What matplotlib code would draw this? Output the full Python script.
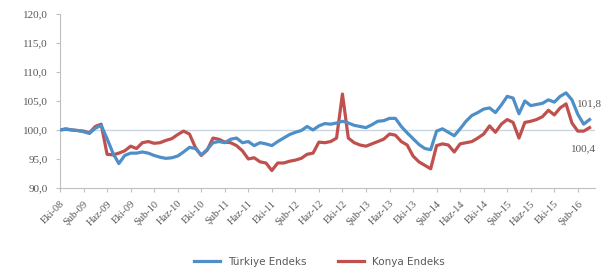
import matplotlib
matplotlib.use("Agg")
import matplotlib.pyplot as plt
import numpy as np

# Monthly index, Eki-08 .. Nis-16
turkiye = [100.0, 100.1, 100.0, 99.9, 99.7, 99.4, 100.3, 100.8, 98.5, 96.0,
           94.2, 95.6, 96.0, 96.0, 96.2, 96.0, 95.6, 95.3, 95.1, 95.2,
           95.5, 96.2, 97.0, 96.8, 95.7, 96.6, 97.8, 98.0, 97.8, 98.4,
           98.6, 97.8, 98.0, 97.3, 97.8, 97.6, 97.3, 98.0, 98.6, 99.2,
           99.6, 99.9, 100.6, 100.0, 100.7, 101.1, 101.0, 101.2, 101.5, 101.2,
           100.8, 100.6, 100.4, 100.9, 101.5, 101.6, 102.0, 102.0, 100.6, 99.5,
           98.5, 97.5, 96.8, 96.6, 99.8, 100.2, 99.6, 99.0, 100.2, 101.5,
           102.5, 103.0, 103.6, 103.8, 103.0, 104.3, 105.8, 105.5, 102.8, 105.0,
           104.2, 104.4, 104.6, 105.2, 104.8, 105.8, 106.4, 105.2, 102.7, 101.0,
           101.8]
konya = [100.0, 100.2, 100.0, 99.9, 99.8, 99.5, 100.6, 101.0, 95.8, 95.7,
         96.0, 96.4, 97.2, 96.8, 97.8, 98.0, 97.7, 97.8, 98.2, 98.5,
         99.2, 99.8, 99.3, 97.0, 95.6, 96.5, 98.6, 98.4, 97.9, 97.8,
         97.3, 96.4, 95.0, 95.2, 94.5, 94.3, 93.0, 94.3, 94.3, 94.6,
         94.8, 95.1, 95.8, 96.0, 97.9, 97.8, 98.0, 98.6, 106.2, 98.6,
         97.8, 97.4, 97.2, 97.6, 98.0, 98.4, 99.3, 99.1, 98.0, 97.4,
         95.5, 94.5, 93.9, 93.3, 97.3, 97.6, 97.4, 96.2, 97.6, 97.8,
         98.0, 98.6, 99.3, 100.7, 99.6, 101.0, 101.8, 101.3, 98.6, 101.3,
         101.5, 101.8, 102.3, 103.4, 102.6, 103.8, 104.5, 101.2, 99.8, 99.8,
         100.4]
tick_labels = ['Eki-08', 'Şub-09', 'Haz-09', 'Eki-09', 'Şub-10', 'Haz-10', 'Eki-10',
               'Şub-11', 'Haz-11', 'Eki-11', 'Şub-12', 'Haz-12', 'Eki-12', 'Şub-13',
               'Haz-13', 'Eki-13', 'Şub-14', 'Haz-14', 'Eki-14', 'Şub-15', 'Haz-15',
               'Eki-15', 'Şub-16']
yticks = [90, 95, 100, 105, 110, 115, 120]

blue = '#4f8fc8'
red = '#c0504d'
gray = '#595959'

x = np.arange(len(turkiye))

fig = plt.figure(figsize=(6.03, 2.70), dpi=100)
ax = fig.add_axes([0.0995, 0.304, 0.888, 0.644])

ax.axhline(100, color='#c9d5e3', lw=1, zorder=1)
ax.plot(x, turkiye, color=blue, lw=2.3, label='Türkiye Endeks', zorder=3)
ax.plot(x, konya, color=red, lw=2.3, label='Konya Endeks', zorder=2)

ax.set_xlim(0, 91)
ax.set_ylim(90, 120)
ax.set_yticks(yticks)
ax.set_yticklabels([f'{v:.1f}'.replace('.', ',') for v in yticks],
                   fontsize=8, color=gray, family='Liberation Serif')
ax.set_xticks(np.arange(0, len(tick_labels) * 4, 4))
ax.set_xticklabels(tick_labels, rotation=45, ha='right', rotation_mode='anchor',
                   fontsize=7.5, color=gray, family='Liberation Serif')
ax.tick_params(axis='both', colors='#bfbfbf', length=3, labelcolor=gray)
ax.tick_params(axis='x', pad=5)
ax.tick_params(axis='y', pad=6)

for s in ['top', 'right']:
    ax.spines[s].set_visible(False)
for s in ['left', 'bottom']:
    ax.spines[s].set_color('#bfbfbf')

ax.text(90, 104.6, '101,8', fontsize=8, color=gray, ha='center', va='center',
        family='Liberation Serif')
ax.text(89, 96.8, '100,4', fontsize=8, color=gray, ha='center', va='center',
        family='Liberation Serif')

fig.legend(loc='center', bbox_to_anchor=(0.53, 0.03), ncol=2, frameon=False,
           fontsize=7.5, handlelength=2.5, columnspacing=3,
           labelcolor=gray)

fig.savefig('out.png', dpi=100, facecolor='white')
